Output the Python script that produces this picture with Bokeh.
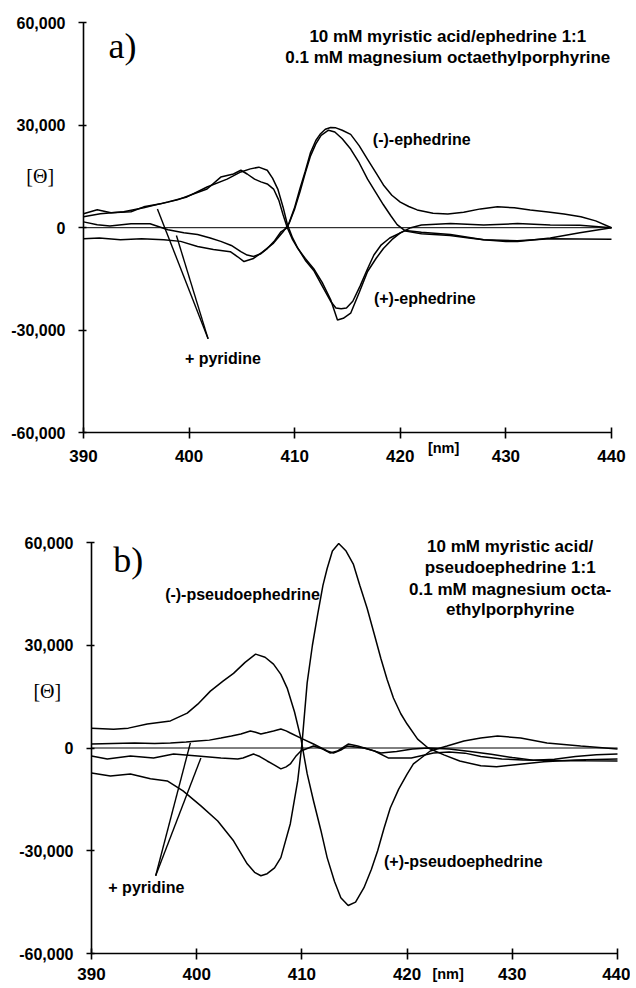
from bokeh.plotting import figure
from bokeh.models import Label, NumeralTickFormatter, FixedTicker, LinearAxis
from bokeh.embed import file_html
from bokeh.resources import INLINE

SANS = "Liberation Sans"
SERIF = "Liberation Serif"

X_TICKS = [390, 400, 410, 420, 430, 440]
Y_TICKS = [-60000, -30000, 0, 30000, 60000]

# ---------------- panel a) ephedrine ----------------
a_minus_x = [390, 391.3, 392.5, 394.5, 396.3, 398.0, 399.5, 400.8, 402.0, 403.0, 404.0, 404.9, 405.5, 406.1,
             406.8, 407.4, 408.1, 408.7, 409.3, 410.0, 410.5, 411.0, 411.5, 412.0, 412.4, 412.9, 413.4, 413.9,
             414.5, 415.3, 416.1, 416.9, 417.7, 418.4, 419.2, 420.0, 420.8, 421.6, 423.1, 424.5, 426.0, 427.6,
             429.2, 430.8, 432.3, 434.0, 435.5, 437.1, 438.5, 440.0]
a_minus_y = [1700, 870, 500, 1160, 1160, -600, -1500, -2000, -3000, -4000, -5200, -7000, -8000, -8400,
             -7600, -6100, -3800, -1200, 0, 6000, 11500, 16500, 22000, 25500, 27300, 28800, 29300, 29200,
             28500, 27300, 24000, 20000, 16000, 12500, 9500, 7500, 6200, 5200, 4200, 4000, 4500, 5500,
             6100, 5800, 5200, 4600, 4000, 3200, 2000, 0]

a_minus_pyr_x = [390, 391.5, 393.5, 395.5, 397.6, 399.2, 400.8, 402.3, 403.9, 404.6, 405.2, 406.1, 407.0,
                 408.0, 408.9, 409.5, 410.0, 410.5, 411.0, 411.5, 412.0, 412.5, 413.2, 413.8, 414.5, 415.3,
                 416.1, 416.9, 417.7, 418.4, 419.1, 419.7, 420.5, 422.0, 424.7, 426.5, 427.9, 430.0, 431.1,
                 432.5, 434.2, 437.0, 440.0]
a_minus_pyr_y = [-3200, -3000, -3500, -3200, -3500, -4000, -5500, -6400, -7000, -8500, -9900, -9000, -7000,
                 -4500, -1200, 1500, 5500, 10500, 16000, 21000, 24500, 27000, 28500, 28000, 26000, 23000,
                 19000, 14200, 10200, 6700, 3500, 900, -1000, -1800, -2300, -3000, -3500, -4000, -4000,
                 -3600, -3000, -1500, 0]

a_plus_x = [390, 391.3, 392.6, 394.5, 395.7, 397.3, 398.9, 400.4, 401.7, 403.0, 404.2, 404.9, 405.5, 406.2,
            406.8, 407.4, 408.0, 408.5, 408.9, 409.3, 409.8, 410.3, 411.0, 411.8, 412.6, 413.4, 414.05,
            414.6, 415.3, 416.1, 416.9, 417.7, 418.4, 419.2, 420.0, 421.0, 422.0, 424.75, 427.9, 431.1,
            434.2, 437.0, 440.0]
a_plus_y = [4060, 5230, 4360, 4650, 6100, 6970, 8130, 9870, 11300, 14800, 15700, 16800, 15700, 14200,
            13400, 12800, 11300, 8000, 3800, 0, -3500, -6100, -9000, -12000, -16000, -21000, -27000,
            -26500, -25000, -19000, -12800, -9000, -6100, -3500, -1500, 0, 800, 1200, 800, 1200,
            800, 700, 0]

a_plus_pyr_x = [390, 391.6, 393.8, 395.7, 398.0, 399.8, 401.7, 403.6, 404.9, 405.8, 406.6, 407.4, 407.9,
                408.4, 408.9, 409.3, 409.8, 410.3, 411.0, 411.8, 412.6, 413.4, 413.9, 414.4, 414.9, 415.5,
                416.2, 416.9, 417.5, 418.2, 419.0, 420.5, 422.0, 424.75, 427.9, 431.1, 434.2, 437.0, 440.0]
a_plus_pyr_y = [3200, 4060, 4650, 5810, 7550, 9000, 11900, 14200, 16300, 17200, 17700, 16800, 14500,
                11300, 6000, 1000, -3000, -6000, -9500, -12500, -17000, -21500, -23500, -23700, -23500,
                -21500, -17000, -12000, -8000, -5000, -3000, -800, -1300, -2000, -3500, -3800, -3200,
                -3300, -3400]

a_ptr_x0 = [397.0, 398.8]
a_ptr_y0 = [5500, -2300]
a_ptr_x1 = [401.8, 401.8]
a_ptr_y1 = [-32500, -32500]

# ---------------- panel b) pseudoephedrine ----------------
b_p1_x = [390, 392.1, 393.5, 395.3, 397.5, 399.1, 400.1, 401.3, 402.5, 403.5, 404.6, 405.6, 406.5, 407.3,
          408.0, 408.6, 409.3, 409.9, 410.5, 411.1, 411.8, 412.4, 413.1, 413.7, 414.4, 415.1, 415.9, 416.6,
          417.2, 417.8, 418.4, 419.2, 420.0, 420.6, 421.3, 422.2, 423.8, 425.4, 427.0, 428.6, 430.8, 433.3,
          436.5, 440.0]
b_p1_y = [5800, 5500, 5800, 7000, 7900, 10200, 12800, 16600, 19500, 21800, 25000, 27400, 26500, 24500,
          21500, 17500, 10500, 2900, -7500, -15400, -24000, -32000, -39000, -43700, -46000, -45000, -40800,
          -35500, -30000, -23500, -17500, -12000, -7600, -4660, -3000, -870, 580, 2040, 2900, 3500, 2900,
          1460, 580, -290]

b_p2_x = [390, 391.8, 393.7, 395.6, 397.2, 398.7, 400.4, 402.0, 403.5, 404.8, 405.5, 406.1, 406.7, 407.4,
          408.0, 408.9, 409.6, 410.0, 410.5, 411.0, 411.5, 412.0, 412.4, 412.9, 413.5, 414.2, 414.9, 415.5,
          416.2, 416.9, 417.5, 418.1, 418.7, 419.4, 420.0, 421.0, 422.0, 423.5, 425.0, 427.0, 428.5, 430.5,
          433.0, 436.0, 440.0]
b_p2_y = [-7300, -8200, -7600, -9000, -9600, -12500, -16900, -21300, -27100, -33800, -36300, -37300, -36700,
          -35000, -32000, -22100, -9600, 1000, 19000, 30000, 39000, 47500, 52400, 57500, 59700, 57500, 53600,
          47500, 40800, 33000, 26200, 20000, 14600, 10000, 7000, 2600, 0, -2000, -3800, -5200, -5500, -4800,
          -4000, -3500, -3200]

b_q1_x = [390, 392.0, 394.1, 396.0, 397.5, 399.0, 400.1, 401.2, 402.3, 403.3, 404.2, 405.1, 405.6, 406.1,
          406.7, 407.3, 408.0, 408.5, 408.9, 409.9, 411.1, 412.4, 413.0, 413.7, 414.3, 415.1, 415.9, 416.7,
          417.5, 419.0, 420.5, 422.0, 424.0, 426.0, 428.0, 430.0, 432.0, 434.0, 436.0, 438.0, 440.0]
b_q1_y = [1160, 1300, 1460, 1300, 1460, 1750, 2040, 2300, 2900, 3500, 4080, 4950, 4600, 4080,
          4500, 4950, 5530, 5000, 4370, 2900, 1160, -870, -1460, -600, 580, 300, 0, -700,
          -1460, -1000, -300, 0, -300, -1000, -1800, -2800, -3600, -3300, -2500, -2000, -1750]

b_q2_x = [390, 391.5, 393.7, 395.9, 397.8, 400.1, 402.3, 403.9, 404.4, 405.4, 406.0, 406.7, 407.4, 408.0,
          408.5, 408.9, 409.4, 409.9, 411.1, 412.0, 412.7, 413.4, 414.4, 415.3, 416.9, 418.2, 420.4, 422.5,
          424.0, 425.5, 427.0, 429.0, 431.0, 433.0, 435.0, 437.0, 440.0]
b_q2_y = [-2330, -3200, -2330, -2900, -1750, -2330, -2900, -3200, -2900, -1750, -2500, -3790, -5000, -6100,
          -5500, -4660, -2500, -870, 580, -290, -1460, -870, 1160, 580, -870, -2900, -2900, -1460,
          -1200, -1500, -2500, -3200, -3500, -3600, -3700, -3750, -3800]

b_ptr_x0 = [399.4, 400.4]
b_ptr_y0 = [1500, -2900]
b_ptr_x1 = [396.1, 396.1]
b_ptr_y1 = [-37300, -37300]

# ---------------- layout (pixel geometry of each panel) ----------------
FW = 630


def make_fig(fh, left_px, px_per_nm, top_px, px_per_unit, x_standoff):
    # frame fills the whole figure; axes are pinned at 390 nm / -60,000
    x0 = X_TICKS[0] - left_px / px_per_nm
    x1 = x0 + FW / px_per_nm
    y1 = Y_TICKS[-1] + top_px * px_per_unit
    y0 = y1 - fh * px_per_unit
    p = figure(frame_width=FW, frame_height=fh, x_range=(x0, x1), y_range=(y0, y1),
               output_backend="svg", toolbar_location=None,
               x_axis_location=None, y_axis_location=None,
               min_border_left=0, min_border_right=0, min_border_top=0, min_border_bottom=0)
    p.outline_line_color = None
    p.grid.visible = False
    p.background_fill_color = "white"
    p.border_fill_color = "white"

    xa = LinearAxis(fixed_location=Y_TICKS[0], bounds=(X_TICKS[0], X_TICKS[-1]),
                    ticker=FixedTicker(ticks=X_TICKS))
    ya = LinearAxis(fixed_location=X_TICKS[0], bounds=(Y_TICKS[0], Y_TICKS[-1]),
                    ticker=FixedTicker(ticks=Y_TICKS), formatter=NumeralTickFormatter(format="0,0"))
    for ax in (xa, ya):
        ax.axis_line_width = 1.6
        ax.axis_line_color = "black"
        ax.major_tick_line_width = 1.6
        ax.major_tick_line_color = "black"
        ax.minor_tick_line_color = None
        ax.major_label_text_font = SANS
        ax.major_label_text_font_style = "bold"
        ax.major_label_text_color = "black"
    xa.major_label_text_font_size = "17px"
    ya.major_label_text_font_size = "16px"
    xa.major_tick_in = 5
    xa.major_tick_out = 6
    xa.major_label_standoff = x_standoff
    ya.major_tick_in = 3
    ya.major_tick_out = 5
    ya.major_label_standoff = 13
    p.add_layout(xa, "below")
    p.add_layout(ya, "left")
    # zero reference line between the first and last wavelength ticks
    p.line([X_TICKS[0], X_TICKS[-1]], [0, 0], line_color="black", line_width=1)
    return p


def txt(p, x, y, s, size="16px", align="left", bold=True, font=SANS):
    p.add_layout(Label(x=x, y=y, text=s, text_font=font, text_font_size=size,
                       text_font_style="bold" if bold else "normal", text_align=align,
                       text_baseline="middle", text_color="black"))


LW = 1.5

# panel a
pa = make_fig(474, 83, 10.56, 22, 292.4, 11)
for xs, ys in [(a_minus_x, a_minus_y), (a_minus_pyr_x, a_minus_pyr_y),
               (a_plus_x, a_plus_y), (a_plus_pyr_x, a_plus_pyr_y)]:
    pa.line(xs, ys, line_color="black", line_width=LW)
pa.segment(a_ptr_x0, a_ptr_y0, a_ptr_x1, a_ptr_y1, line_color="black", line_width=1.4)
txt(pa, 393.7, 53000, "a)", size="36px", align="center", bold=False, font=SERIF)
txt(pa, 424.5, 56000, "10 mM myristic acid/ephedrine 1:1", size="17px", align="center")
txt(pa, 424.5, 49700, "0.1 mM magnesium octaethylporphyrine", size="17px", align="center")
txt(pa, 417.4, 25900, "(-)-ephedrine")
txt(pa, 417.5, -20600, "(+)-ephedrine")
txt(pa, 399.6, -38300, "+ pyridine")
txt(pa, 385.9, 15000, "[\u0398]", size="20px", align="center", bold=False, font=SERIF)
txt(pa, 424.1, -64300, "[nm]", size="14.5px", align="center")

# panel b
pb = make_fig(512, 91, 10.52, 68, 291.97, 8)
for xs, ys in [(b_p1_x, b_p1_y), (b_p2_x, b_p2_y), (b_q1_x, b_q1_y), (b_q2_x, b_q2_y)]:
    pb.line(xs, ys, line_color="black", line_width=LW)
pb.segment(b_ptr_x0, b_ptr_y0, b_ptr_x1, b_ptr_y1, line_color="black", line_width=1.4)
txt(pb, 393.5, 55000, "b)", size="36px", align="center", bold=False, font=SERIF)
txt(pb, 429.8, 58800, "10 mM myristic acid/", size="17px", align="center")
txt(pb, 429.8, 52600, "pseudoephedrine 1:1", size="17px", align="center")
txt(pb, 429.8, 46400, "0.1 mM magnesium octa-", size="17px", align="center")
txt(pb, 429.8, 40400, "ethylporphyrine", size="17px", align="center")
txt(pb, 397.0, 44800, "(-)-pseudoephedrine")
txt(pb, 417.8, -33200, "(+)-pseudoephedrine")
txt(pb, 391.6, -40800, "+ pyridine")
txt(pb, 385.8, 16700, "[\u0398]", size="20px", align="center", bold=False, font=SERIF)
txt(pb, 423.9, -66000, "[nm]", size="14.5px", align="center")

open("out.html", "w").write(file_html([pa, pb], INLINE))
